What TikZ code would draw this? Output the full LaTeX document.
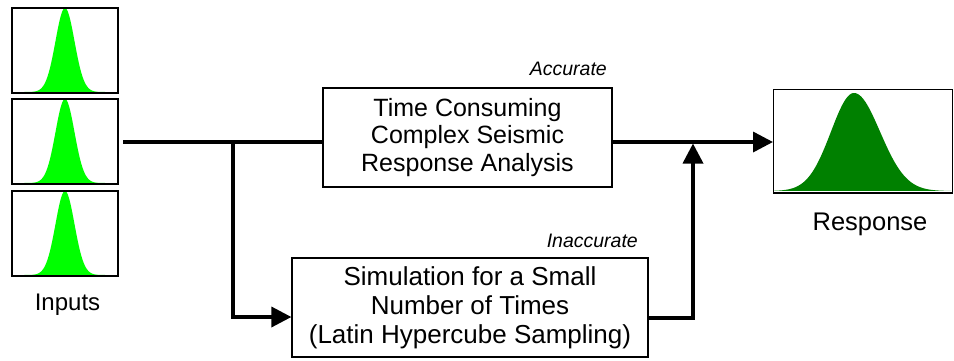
\documentclass[tikz,border=0pt]{standalone}
\usepackage{fontspec}
\setmainfont{Liberation Sans}
\usetikzlibrary{arrows.meta}
\definecolor{ingreen}{HTML}{00FF00}
\definecolor{outgreen}{HTML}{008000}
\begin{document}
\begin{tikzpicture}[x=1pt,y=-1pt,
  distbox/.style={draw=black,line width=1.5pt,minimum width=106pt,minimum height=85pt,inner sep=0pt,anchor=north west},
  procbox/.style={draw=black,line width=1.2pt,inner sep=0pt,align=center},
  flow/.style={line width=3.5pt},
  flowarrow/.style={line width=3.5pt,-{Triangle[length=20pt,width=20pt]}},
  note/.style={font=\fontsize{19.5}{22}\selectfont\itshape,inner sep=0pt},
  caption/.style={font=\fontsize{24}{28}\selectfont,inner sep=0pt}]
\useasboundingbox (0,0) rectangle (954,360);
% input distributions
\foreach \b in {92,183,275}
  \fill[ingreen] plot[domain=12:116,samples=140] (\x,{\b-84*exp(-0.5*((\x-65)/9.5)^2)}) -- cycle;
\node[distbox] (in1) at (11,7) {};
\node[distbox] (in2) at (11,98) {};
\node[distbox] (in3) at (11,190) {};
\node[caption,anchor=base] (inlab) at (67.5,310) {Inputs};
% response distribution
\fill[outgreen] plot[domain=774:951,samples=180] (\x,{191-98*exp(-0.5*((\x-854)/(ifthenelse(\x<854,23,26)))^2)}) -- cycle;
\node[draw=black,line width=1pt,minimum width=179pt,minimum height=103pt,inner sep=0pt,anchor=north west] (resp) at (773,89) {};
\draw[line width=2.5pt] (resp.south west) -- (resp.south east);
\node[caption,font=\fontsize{25.5}{28}\selectfont,anchor=base] (resplab) at (870,230) {Response};
% process boxes
\node[procbox,font=\fontsize{25}{27.5}\selectfont,minimum width=289pt,minimum height=99pt] (acc) at (467.5,137.5) {Time Consuming\\Complex Seismic\\Response Analysis};
\node[procbox,font=\fontsize{26}{29}\selectfont,minimum width=356pt,minimum height=99pt] (inacc) at (470,307.5) {Simulation for a Small\\Number of Times\\(Latin Hypercube Sampling)};
\node[note,anchor=base east] (acclab) at (607,75) {Accurate};
\node[note,anchor=base east] (inacclab) at (638,247) {Inaccurate};
% connectors
\coordinate (start) at (123,142);
\coordinate (branch) at (233,142);
\coordinate (merge) at (693,143.5);
\coordinate (outa) at (612,142);
\draw[flow] (start) -- (start -| acc.west);
\draw[flowarrow] (branch) |- ([yshift=-9.5pt]inacc.west);
\draw[flowarrow] (outa) -- (outa -| resp.west);
\draw[flowarrow] ([yshift=-10.5pt]inacc.east) -| (merge);
\end{tikzpicture}
\end{document}
